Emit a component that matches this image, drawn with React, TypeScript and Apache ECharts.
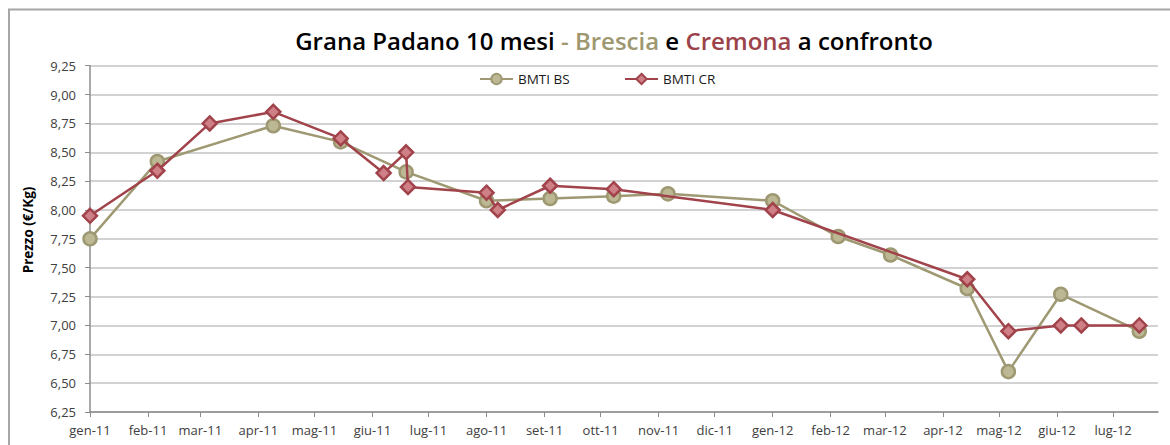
import React, { useEffect, useRef } from "react";
import * as echarts from "echarts";

const monthNames = ["gen", "feb", "mar", "apr", "mag", "giu", "lug", "ago", "set", "ott", "nov", "dic"];

const bsDates = [
  "2011-01-01", "2011-02-06", "2011-04-09", "2011-05-15", "2011-06-19", "2011-08-01",
  "2011-09-04", "2011-10-08", "2011-11-06", "2012-01-01", "2012-02-05", "2012-03-04",
  "2012-04-14", "2012-05-06", "2012-06-03", "2012-07-15",
];
const bsValues = [7.75, 8.42, 8.73, 8.59, 8.33, 8.08, 8.1, 8.12, 8.14, 8.08, 7.77, 7.61, 7.32, 6.6, 7.27, 6.95];

const crDates = [
  "2011-01-01", "2011-02-06", "2011-03-06", "2011-04-09", "2011-05-15", "2011-06-07",
  "2011-06-19", "2011-06-20", "2011-08-01", "2011-08-07", "2011-09-04", "2011-10-08",
  "2012-01-01", "2012-04-14", "2012-05-06", "2012-06-03", "2012-06-14", "2012-07-15",
];
const crValues = [7.95, 8.34, 8.75, 8.85, 8.62, 8.32, 8.5, 8.2, 8.15, 8.0, 8.21, 8.18, 8.0, 7.4, 6.95, 7.0, 7.0, 7.0];

const xMin = "2011-01-01";
const xMax = "2012-07-25";
const tickMonths = [
  "2011-01-01", "2011-02-01", "2011-03-01", "2011-04-01", "2011-05-01", "2011-06-01",
  "2011-07-01", "2011-08-01", "2011-09-01", "2011-10-01", "2011-11-01", "2011-12-01",
  "2012-01-01", "2012-02-01", "2012-03-01", "2012-04-01", "2012-05-01", "2012-06-01",
  "2012-07-01",
];

const yMin = 6.25;
const yMax = 9.25;
const yStep = 0.25;

const toTs = (s: string) => {
  const [y, m, d] = s.split("-").map(Number);
  return new Date(y, m - 1, d).getTime();
};

const BS_LINE = "#9E9972";
const BS_FILL = "#BDB894";
const CR_LINE = "#A1434B";
const CR_FILL = "#CF7F86";

export default function App() {
  const ref = useRef<HTMLDivElement>(null);

  useEffect(() => {
    document.body.style.margin = "0";
    const chart = echarts.init(ref.current!, undefined, { renderer: "svg" });
    const font = "'Open Sans', sans-serif";
    const titleFont = { fontFamily: font, fontSize: 24, fontWeight: 600 };
    const option: any = {
      animation: false,
      backgroundColor: "#ffffff",
      textStyle: { fontFamily: font },
      grid: { left: 90, right: 12, top: 65.7, bottom: 33 },
      legend: [
        {
          data: ["BMTI BS"],
          left: 474,
          top: 67,
          itemWidth: 33,
          itemHeight: 13,
          itemGap: 4,
          textStyle: { fontFamily: font, fontSize: 13.5, color: "#1a1a1a" },
        },
        {
          data: ["BMTI CR"],
          left: 619,
          top: 67,
          itemWidth: 33,
          itemHeight: 13,
          itemGap: 4,
          textStyle: { fontFamily: font, fontSize: 13.5, color: "#1a1a1a" },
        },
      ],
      xAxis: {
        type: "value",
        min: toTs(xMin),
        max: toTs(xMax),
        splitLine: { show: false },
        axisLine: { lineStyle: { color: "#8C8C8C", width: 1.5 } },
        axisTick: {
          show: true,
          length: 5,
          lineStyle: { color: "#8C8C8C", width: 1 },
          customValues: tickMonths.map(toTs),
        },
        axisLabel: {
          customValues: tickMonths.map(toTs),
          margin: 11,
          fontFamily: font,
          fontSize: 13,
          color: "#404040",
          formatter: (v: number) => {
            const d = new Date(v);
            return monthNames[d.getMonth()] + "-" + String(d.getFullYear()).slice(2);
          },
        },
      },
      yAxis: {
        type: "value",
        min: yMin,
        max: yMax,
        interval: yStep,
        axisLine: { show: true, lineStyle: { color: "#8C8C8C", width: 1.5 } },
        axisTick: { show: true, length: 5, lineStyle: { color: "#8C8C8C" } },
        splitLine: { lineStyle: { color: "#C3C3C3", width: 1.5 } },
        axisLabel: {
          margin: 14,
          fontFamily: font,
          fontSize: 13,
          color: "#404040",
          formatter: (v: number) => v.toFixed(2).replace(".", ","),
        },
      },
      graphic: [
        {
          type: "rect",
          shape: { x: 9, y: 9.5, width: 1300, height: 600 },
          style: { fill: "none", stroke: "#A6A6A6", lineWidth: 2 },
          silent: true,
          z: -1,
        },
        {
          type: "text",
          x: 614,
          y: 40,
          style: {
            text: "{a|Grana Padano 10 mesi }{b|- Brescia}{a| e }{c|Cremona}{a| a confronto}",
            textAlign: "center",
            textVerticalAlign: "middle",
            rich: {
              a: { ...titleFont, fill: "#000000", color: "#000000" },
              b: { ...titleFont, fill: "#9E9871", color: "#9E9871" },
              c: { ...titleFont, fill: "#9B4349", color: "#9B4349" },
            },
          },
        },
        {
          type: "text",
          x: 28,
          y: 230,
          rotation: Math.PI / 2,
          style: {
            text: "Prezzo (€/Kg)",
            textAlign: "center",
            textVerticalAlign: "middle",
            fontFamily: font,
            fontSize: 13.5,
            fontWeight: "bold",
            fill: "#000000",
          },
        },
      ],
      series: [
        {
          name: "BMTI BS",
          type: "line",
          data: bsDates.map((d, i) => [toTs(d), bsValues[i]]),
          symbol: "circle",
          symbolSize: 13,
          lineStyle: { color: BS_LINE, width: 2.5 },
          itemStyle: { color: BS_FILL, borderColor: BS_LINE, borderWidth: 2.5 },
          z: 2,
        },
        {
          name: "BMTI CR",
          type: "line",
          data: crDates.map((d, i) => [toTs(d), crValues[i]]),
          symbol: "diamond",
          symbolSize: 14,
          lineStyle: { color: CR_LINE, width: 2.5 },
          itemStyle: { color: CR_FILL, borderColor: CR_LINE, borderWidth: 2.5 },
          z: 3,
        },
      ],
    };
    chart.setOption(option);
    return () => chart.dispose();
  }, []);

  return <div ref={ref} style={{ width: 1170, height: 445 }} />;
}
